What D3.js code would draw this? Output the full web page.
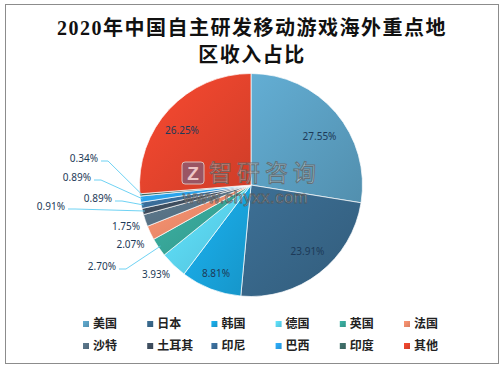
<!DOCTYPE html>
<html><head><meta charset="utf-8">
<script src="https://cdn.jsdelivr.net/npm/d3@7"></script>
<style>html,body{margin:0;padding:0;background:#fff;}svg{display:block;}</style>
</head><body>
<svg id="chart" width="504" height="369"></svg>
<script>
// ---- data ----
const categories = ["美国","日本","韩国","德国","英国","法国","沙特","土耳其","印尼","巴西","印度","其他"];
const values = [27.55, 23.91, 8.81, 3.93, 2.70, 2.07, 1.75, 0.91, 0.89, 0.89, 0.34, 26.25];
const colors = ["#5b9fc2","#386689","#19a5de","#5ad3f2","#38a698","#f08b6b","#587285","#3e4d5d","#3a6c98","#2aa2ec","#3e6c66","#e5442d"];
const titleLines = ["2020年中国自主研发移动游戏海外重点地","区收入占比"];

// label layout (offsets from pie centre), separate from data
const labelLayout = {
  "美国":[68.5,-49,"middle",false], "日本":[56.5,66,"middle",false], "韩国":[-35,88,"middle",false],
  "德国":[-95,89,"middle",false], "英国":[-135,81,"end",true], "法国":[-120.5,59,"middle",false],
  "沙特":[-125,41,"middle",false], "土耳其":[-186,21,"end",true], "印尼":[-139,13,"end",true],
  "巴西":[-160,-8,"end",true], "印度":[-153,-27,"end",true], "其他":[-69,-55,"middle",false]
};

const svg = d3.select("#chart");
svg.append("rect").attr("x",5.5).attr("y",4.5).attr("width",493).attr("height",359)
  .attr("fill","#fff").attr("stroke","#8c8c8c").attr("stroke-width",1);

// title
svg.append("g").selectAll("text").data(titleLines).join("text")
  .attr("x",252).attr("y",(d,i)=>35+i*27)
  .attr("text-anchor","middle")
  .attr("font-family","'Liberation Serif','Noto Sans CJK SC',serif")
  .attr("font-size",20).attr("font-weight","bold").attr("letter-spacing",1.5)
  .attr("fill","#111").text(d=>d);

const defs = svg.append("defs");
colors.forEach((c,i)=>{
  const g = defs.append("linearGradient").attr("id","g"+i)
    .attr("x1","0%").attr("y1","0%").attr("x2","100%").attr("y2","100%");
  g.append("stop").attr("offset","0%").attr("stop-color",d3.color(c).brighter(0.25).formatHex());
  g.append("stop").attr("offset","100%").attr("stop-color",d3.color(c).darker(0.3).formatHex());
});

const cx = 251, cy = 185, r = 111.5;
const pie = d3.pie().sort(null).value(d=>d.v);
const data = pie(categories.map((c,i)=>({c, v:values[i], i})));
const arc = d3.arc().innerRadius(0).outerRadius(r);
const g = svg.append("g").attr("transform",`translate(${cx},${cy})`);
g.selectAll("path").data(data).join("path")
  .attr("d",arc).attr("fill",d=>`url(#g${d.data.i})`)
  .attr("stroke","#fff").attr("stroke-width",0.7);

// watermark
const wm = svg.append("g").attr("opacity",0.8);
wm.append("rect").attr("x",182).attr("y",162).attr("width",22).attr("height",22).attr("rx",3)
  .attr("fill","#8a5a72").attr("stroke","#ddd").attr("stroke-width",1);
wm.append("text").attr("x",193).attr("y",180).attr("text-anchor","middle")
  .attr("font-family","Liberation Sans,sans-serif").attr("font-weight","bold").attr("font-size",19)
  .attr("fill","#f2e6ec").text("Z");
wm.append("text").attr("x",209).attr("y",181)
  .attr("font-family","'Noto Sans CJK SC',sans-serif").attr("font-size",23).attr("letter-spacing",5)
  .attr("fill","rgba(255,255,255,0.55)").attr("stroke","#666").attr("stroke-width",1).text("智研咨询");
wm.append("text").attr("x",183).attr("y",203)
  .attr("font-family","'Liberation Sans',Arial,sans-serif").attr("font-size",16.5).attr("letter-spacing",0.6)
  .attr("fill","rgba(255,255,255,0.75)").attr("stroke","#555").attr("stroke-width",0.9).text("www.chyxx.com");

// labels
const labG = svg.append("g").attr("transform",`translate(${cx},${cy})`);
data.forEach(d=>{
  const [lx,ly,anchor,leader] = labelLayout[d.data.c];
  if(leader){
    const a = (d.startAngle+d.endAngle)/2;
    const px = Math.sin(a)*r*0.98, py = -Math.cos(a)*r*0.98;
    const sx = lx+3, sy = ly+3;
    labG.append("polyline")
      .attr("points",`${sx},${sy} ${sx+7},${sy} ${px},${py}`)
      .attr("fill","none").attr("stroke","#5fcdf2").attr("stroke-width",0.9);
  }
  labG.append("text").attr("x",lx).attr("y",ly).attr("dy","0.35em")
    .attr("text-anchor",anchor)
    .attr("font-family","'Noto Sans','DejaVu Sans',sans-serif").attr("font-size",10)
    .attr("fill","#1d3a58").text(d3.format(".2f")(d.data.v)+"%");
});

// legend
const leg = svg.append("g");
categories.forEach((c,i)=>{
  const col = i%6, row = Math.floor(i/6);
  const x = 83 + col*64.2, y = 324 + row*22;
  leg.append("rect").attr("x",x).attr("y",y-3).attr("width",6).attr("height",6)
    .attr("fill",`url(#g${i})`);
  leg.append("text").attr("x",x+10).attr("y",y).attr("dy","0.36em")
    .attr("font-family","'Noto Sans CJK SC',sans-serif").attr("font-weight","bold")
    .attr("font-size",12).attr("fill","#222").text(c);
});
</script>
</body></html>
